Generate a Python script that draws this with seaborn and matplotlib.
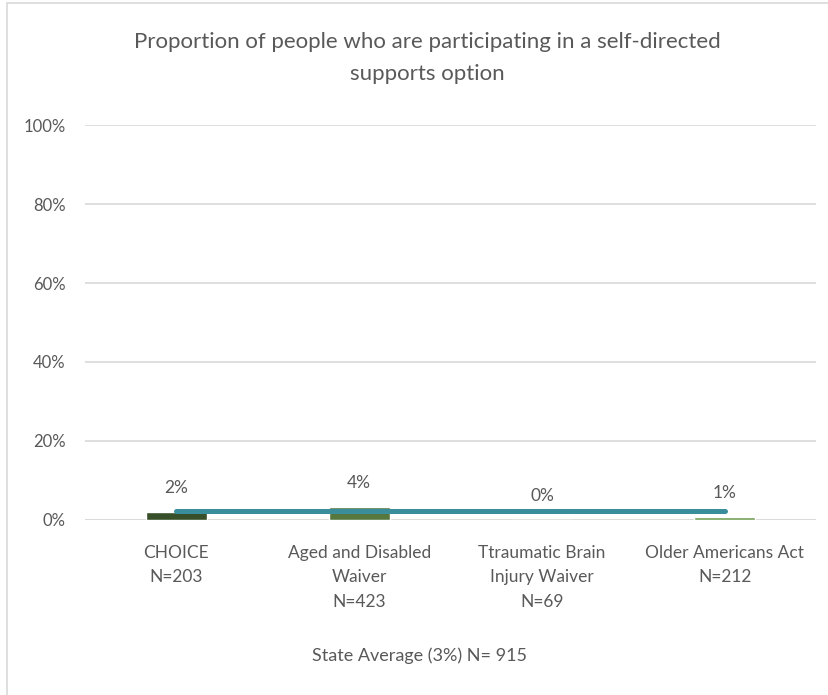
import matplotlib
matplotlib.use("Agg")
import matplotlib.pyplot as plt
from matplotlib.patches import Rectangle
import seaborn as sns
import pandas as pd

# chart data
programs = ["CHOICE\nN=203", "Aged and Disabled\nWaiver\nN=423",
            "Ttraumatic Brain\nInjury Waiver\nN=69", "Older Americans Act\nN=212"]
pct_self_directed = [0.02, 0.033, 0.0, 0.007]
pct_labels = ["2%", "4%", "0%", "1%"]
state_avg = [0.023, 0.023, 0.023, 0.023]
bar_colors = ["#375623", "#548235", "#70AD47", "#70AD47"]

sns.set_theme(style="white")
plt.rcParams['font.family'] = ['Lato', 'DejaVu Sans']
text_col = "#595959"

df = pd.DataFrame({"program": programs, "pct": pct_self_directed})

fig = plt.figure(figsize=(8.29, 6.95), dpi=100)
ax = fig.add_axes([0.1025, 0.252, 0.882, 0.568])

sns.barplot(data=df, x="program", y="pct", hue="program", palette=bar_colors,
            width=0.334, legend=False, ax=ax, zorder=2)
ax.plot(programs, state_avg, color="#3A8E9C", linewidth=3.6,
        solid_capstyle="round", zorder=3)

# data labels above bars
for i, (v, lab) in enumerate(zip(pct_self_directed, pct_labels)):
    ax.annotate(lab, (i, v), xytext=(0, 17.5), textcoords="offset points",
                ha="center", va="center", fontsize=12.5, color=text_col)

ax.set_ylim(0, 1)
ax.set_yticks([0, 0.2, 0.4, 0.6, 0.8, 1.0])
ax.set_yticklabels(["0%", "20%", "40%", "60%", "80%", "100%"])
ax.set_xlim(-0.5, 3.5)
ax.yaxis.grid(True, color="#D9D9D9", linewidth=1.2, zorder=0)
ax.set_axisbelow(True)
for s in ax.spines.values():
    s.set_visible(False)
ax.axhline(0, color="#D9D9D9", linewidth=1.2, zorder=1)
ax.tick_params(axis="y", length=0, pad=14, labelsize=12, labelcolor=text_col)
ax.tick_params(axis="x", length=0, pad=18, labelsize=12.5, labelcolor=text_col)
for t in ax.get_xticklabels():
    t.set_linespacing(1.65)
ax.set_ylabel("")
ax.set_xlabel("State Average (3%) N= 915", fontsize=13, color=text_col,
              labelpad=27, x=0.458)

fig.suptitle("Proportion of people who are participating in a self-directed\nsupports option",
             x=0.515, y=0.916, va="center", fontsize=16, color=text_col, linespacing=1.75)

# outer chart border
fig.patches.append(Rectangle((0.0085, -0.01), 1.0, 1.006, transform=fig.transFigure,
                             fill=False, edgecolor="#D9D9D9", linewidth=1.2))

fig.savefig("out.png", dpi=100)
